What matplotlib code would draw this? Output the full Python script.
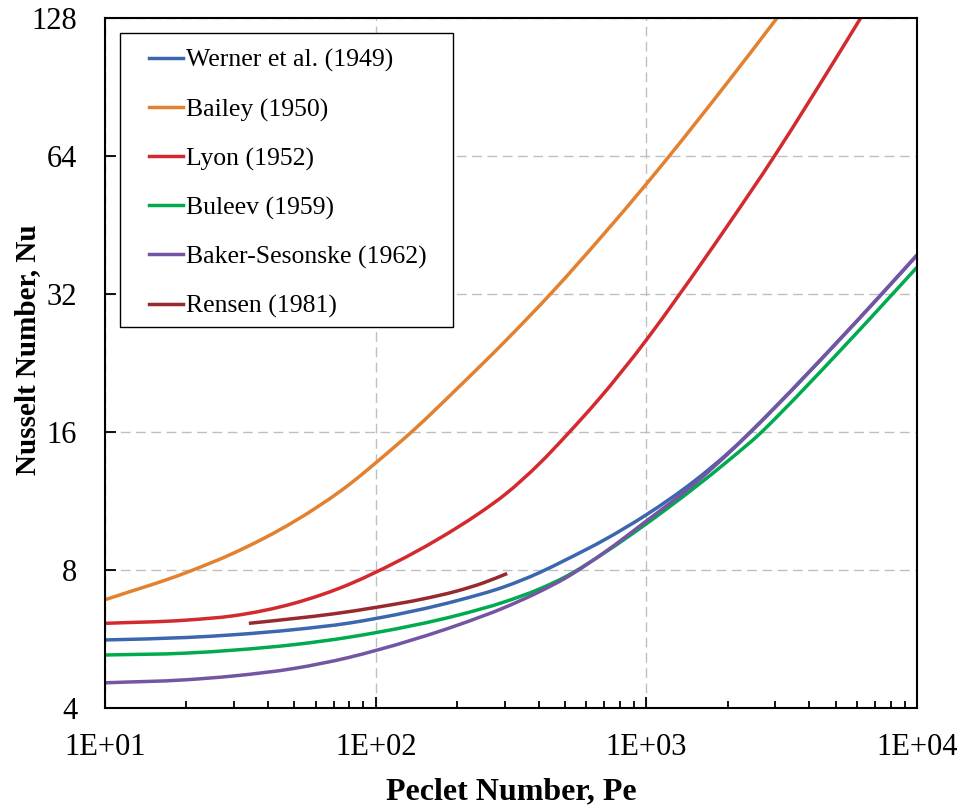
import numpy as np
import matplotlib
matplotlib.use('Agg')
import matplotlib.pyplot as plt
from matplotlib.ticker import FixedLocator, FixedFormatter, LogLocator, NullLocator, NullFormatter
from matplotlib.patches import Rectangle, PathPatch
from matplotlib.path import Path
from matplotlib.lines import Line2D

# values (Pe, Nu)
pe_werner = [10, 20, 30, 50, 80, 100, 200, 300, 400, 500, 700, 1000, 1500, 2000, 2400, 3000, 5000, 7300, 10000]
nu_werner = [5.63, 5.70, 5.78, 5.93, 6.13, 6.27, 6.86, 7.36, 7.88, 8.40, 9.31, 10.56, 12.49, 14.38, 15.9, 18.15, 24.9, 31.7, 38.9]

pe_bailey = [10, 20, 30, 50, 80, 100, 138, 200, 300, 451, 700, 1000, 1205, 2000, 3027, 3500]
nu_bailey = [6.89, 7.90, 8.72, 10.21, 12.3, 13.7, 16.15, 19.9, 25.2, 32.4, 43.4, 55.6, 63.6, 92.8, 127.6, 142.9]

pe_lyon = [10, 20, 30, 50, 80, 100, 200, 243, 300, 400, 515, 663, 1000, 1319, 2000, 2985, 4000, 5000, 6152, 7000]
nu_lyon = [6.12, 6.22, 6.36, 6.77, 7.45, 7.91, 9.90, 10.67, 11.68, 13.6, 15.9, 18.78, 25.4, 31.8, 45.2, 64.2, 84.3, 104.2, 127.2, 144.3]

pe_buleev = [10, 20, 30, 50, 80, 100, 200, 300, 400, 500, 700, 1000, 1500, 2000, 2667, 3100, 5000, 8280, 10000]
nu_buleev = [5.22, 5.27, 5.35, 5.50, 5.71, 5.84, 6.37, 6.82, 7.26, 7.72, 8.72, 10.09, 12.07, 13.83, 16.0, 17.48, 23.48, 32.4, 36.6]

pe_baker = [10, 20, 30, 50, 80, 100, 200, 300, 400, 500, 700, 1000, 1500, 2000, 2400, 3000, 5000, 7300, 10000]
nu_baker = [4.54, 4.61, 4.70, 4.88, 5.16, 5.34, 6.06, 6.63, 7.16, 7.67, 8.74, 10.23, 12.31, 14.33, 15.9, 18.15, 24.9, 31.7, 38.9]

pe_rensen = [34, 50, 70, 100, 150, 200, 250, 306]
nu_rensen = [6.12, 6.27, 6.42, 6.63, 6.92, 7.20, 7.50, 7.86]

x_ticks = [1e1, 1e2, 1e3, 1e4]
x_labels = ['1E+01', '1E+02', '1E+03', '1E+04']
y_ticks = [4, 8, 16, 32, 64, 128]
y_labels = ['4', '8', '16', '32', '64', '128']

plt.rcParams['font.family'] = ['Liberation Serif', 'DejaVu Serif']

LW = 2.5


def smooth_curve(ax, pe, nu, color, label):
    # smoothed line through the read points (cubic Hermite in log-log space, like a spreadsheet "smoothed line")
    x = np.log10(pe)
    y = np.log10(nu)
    h = np.diff(x)
    s = np.diff(y) / h
    m = np.empty_like(x)
    m[0] = s[0]
    m[-1] = s[-1]
    m[1:-1] = (h[1:] * s[:-1] + h[:-1] * s[1:]) / (h[:-1] + h[1:])
    verts = [(x[0], y[0])]
    codes = [Path.MOVETO]
    for i in range(len(h)):
        verts += [(x[i] + h[i] / 3, y[i] + m[i] * h[i] / 3),
                  (x[i + 1] - h[i] / 3, y[i + 1] - m[i + 1] * h[i] / 3),
                  (x[i + 1], y[i + 1])]
        codes += [Path.CURVE4] * 3
    verts = 10 ** np.array(verts)
    ax.add_patch(PathPatch(Path(verts, codes), fill=False, edgecolor=color, lw=LW, capstyle='butt'))
    return Line2D([], [], color=color, lw=LW, label=label)


fig = plt.figure(figsize=(9.63, 8.07), dpi=100)
ax = fig.add_axes([105/963, 99/807, 812/963, 690/807])

handles = [
    smooth_curve(ax, pe_werner, nu_werner, '#3A67AE', 'Werner et al. (1949)'),
    smooth_curve(ax, pe_bailey, nu_bailey, '#E2812F', 'Bailey (1950)'),
    smooth_curve(ax, pe_lyon, nu_lyon, '#D32A2F', 'Lyon (1952)'),
    smooth_curve(ax, pe_buleev, nu_buleev, '#00AA4E', 'Buleev (1959)'),
    smooth_curve(ax, pe_baker, nu_baker, '#7455A3', 'Baker-Sesonske (1962)'),
    smooth_curve(ax, pe_rensen, nu_rensen, '#962A2E', 'Rensen (1981)'),
]

ax.set_xscale('log')
ax.set_yscale('log', base=2)
ax.set_xlim(10, 1e4)
ax.set_ylim(4, 128)

ax.xaxis.set_major_locator(FixedLocator(x_ticks))
ax.xaxis.set_major_formatter(FixedFormatter(x_labels))
ax.xaxis.set_minor_locator(LogLocator(base=10, subs=range(2, 10)))
ax.xaxis.set_minor_formatter(NullFormatter())
ax.yaxis.set_major_locator(FixedLocator(y_ticks))
ax.yaxis.set_major_formatter(FixedFormatter(y_labels))
ax.yaxis.set_minor_locator(NullLocator())

ax.tick_params(which='both', direction='in', top=False, right=False, color='black', width=1.3)
ax.tick_params(which='major', length=8, labelsize=22)
ax.tick_params(which='minor', length=5)
ax.tick_params(axis='x', pad=18)
ax.tick_params(axis='y', pad=20)

for s in ax.spines.values():
    s.set_linewidth(1.5)
    s.set_color('black')

ax.set_axisbelow(True)
ax.grid(which='major', color='#BFBFBF', linestyle=(0, (7, 4)), lw=1.0)

ax.set_xlabel('Peclet Number, Pe', fontsize=23, fontweight='bold')
ax.set_ylabel('Nusselt Number, Nu', fontsize=21, fontweight='bold')
ax.xaxis.set_label_coords(0.5, -0.1007)
ax.yaxis.set_label_coords(-0.0782, 0.52)

# legend frame drawn by hand (wider side padding than matplotlib allows)
ax.add_patch(Rectangle((15/812, 381/690), 333/812, 294/690, transform=ax.transAxes,
                       facecolor='white', edgecolor='black', lw=1.0, zorder=4))
leg = ax.legend(handles=handles, loc='upper left', bbox_to_anchor=(44/812, 659/690), frameon=False,
                fontsize=18.5, handlelength=1.32, handletextpad=0.12,
                labelspacing=1.0, borderpad=0, borderaxespad=0)
leg.set_zorder(5)

fig.savefig('out.png', dpi=100)
